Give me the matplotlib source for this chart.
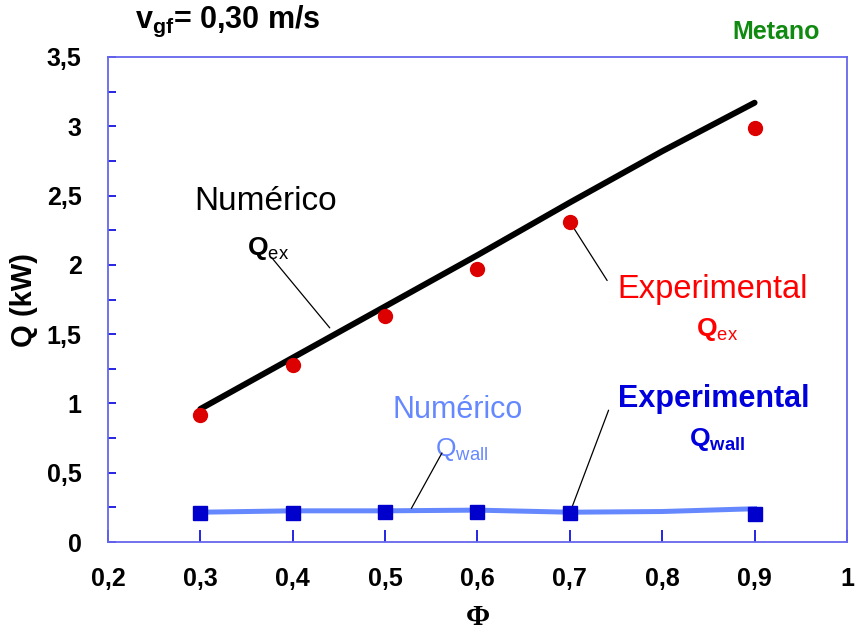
import matplotlib
matplotlib.use("Agg")
import matplotlib.pyplot as plt
from matplotlib.ticker import MultipleLocator, FixedLocator

plt.rcParams['font.family'] = ['Liberation Sans', 'DejaVu Sans']
plt.rcParams['mathtext.fontset'] = 'custom'
plt.rcParams['mathtext.rm'] = 'Liberation Sans'
plt.rcParams['mathtext.bf'] = 'Liberation Sans:bold'

# razão de equivalência
phi_exp = [0.3, 0.4, 0.5, 0.6, 0.7, 0.9]
phi_num = [0.3, 0.4, 0.5, 0.6, 0.7, 0.8, 0.9]

# calor extraído (kW)
qex_exp = [0.92, 1.28, 1.63, 1.97, 2.31, 2.99]
qex_num = [0.96, 1.33, 1.70, 2.07, 2.45, 2.82, 3.17]

# calor pela parede (kW)
qwall_exp = [0.21, 0.21, 0.215, 0.22, 0.21, 0.20]
qwall_num = [0.215, 0.225, 0.225, 0.23, 0.215, 0.22, 0.24]

xticks = [0.2, 0.3, 0.4, 0.5, 0.6, 0.7, 0.8, 0.9, 1.0]
xlabels = ['0,2', '0,3', '0,4', '0,5', '0,6', '0,7', '0,8', '0,9', '1']
yticks = [0, 0.5, 1, 1.5, 2, 2.5, 3, 3.5]
ylabels = ['0', '0,5', '1', '1,5', '2', '2,5', '3', '3,5']

fig = plt.figure(figsize=(8.55, 6.34), dpi=100)
ax = fig.add_axes([0.1263, 0.1451, 0.8643, 0.765])

ax.plot(phi_num, qex_num, color='black', lw=4.3, solid_capstyle='round', zorder=3)
ax.plot(phi_exp, qex_exp, 'o', color='#dd0000', ms=10, mec='#dd0000', zorder=4)
ax.plot(phi_num, qwall_num, color='#6688ff', lw=3.6, zorder=3)
ax.plot(phi_exp, qwall_exp, 's', color='#0000cc', ms=9.5, mec='#0000cc', zorder=4)

ax.set_xlim(0.2, 1.0)
ax.set_ylim(0, 3.5)
ax.xaxis.set_major_locator(FixedLocator(xticks))
ax.set_xticklabels(xlabels)
ax.yaxis.set_major_locator(FixedLocator(yticks))
ax.set_yticklabels(ylabels)
ax.yaxis.set_minor_locator(MultipleLocator(0.25))

ax.tick_params(axis='both', which='both', direction='in', color='#0000dd', width=1.2)
ax.tick_params(axis='x', which='major', length=9, pad=18)
ax.tick_params(axis='y', which='both', length=6, pad=19)
for lab in ax.get_xticklabels() + ax.get_yticklabels():
    lab.set_fontsize(18)
    lab.set_fontweight('bold')
for sp in ax.spines.values():
    sp.set_color('#6666ee')
    sp.set_linewidth(1.3)

ax.set_ylabel('Q (kW)', fontsize=21, fontweight='bold', labelpad=6)
ax.set_xlabel('Φ', fontsize=21, fontweight='bold', family=['Liberation Serif'], labelpad=9)

# títulos
fig.text(0.158, 0.966, r'v$_{\mathbf{gf}}$= 0,30 m/s', fontsize=22, fontweight='bold',
         ha='left', va='center')
fig.text(0.908, 0.949, 'Metano', fontsize=18, fontweight='bold', color='#108a10',
         ha='center', va='center')

# rótulos das curvas
ax.text(0.371, 2.46, 'Numérico', fontsize=24, color='black', ha='center', va='center')
ax.text(0.351, 2.12, r'$\mathbf{Q}_{\mathrm{ex}}$', fontsize=19, color='black',
        ha='left', va='center')
ax.annotate('', xy=(0.442, 1.53), xytext=(0.375, 2.07),
            arrowprops=dict(arrowstyle='-', color='black', lw=0.9))

ax.text(0.854, 1.82, 'Experimental', fontsize=23.5, color='#ff0000', ha='center', va='center')
ax.text(0.837, 1.53, r'$\mathbf{Q}_{\mathrm{ex}}$', fontsize=19, color='#ff0000',
        ha='left', va='center')
ax.annotate('', xy=(phi_exp[4], qex_exp[4]), xytext=(0.742, 1.87),
            arrowprops=dict(arrowstyle='-', color='black', lw=0.9))

ax.text(0.578, 0.95, 'Numérico', fontsize=22, color='#6688ff', ha='center', va='center')
ax.text(0.554, 0.67, r'$\mathrm{Q}_{\mathrm{wall}}$', fontsize=19, color='#6688ff',
        ha='left', va='center')
ax.annotate('', xy=(0.527, qwall_num[2]), xytext=(0.563, 0.66),
            arrowprops=dict(arrowstyle='-', color='black', lw=0.9))

ax.text(0.856, 1.03, 'Experimental', fontsize=22, fontweight='bold', color='#0000dd',
        ha='center', va='center')
ax.text(0.829, 0.74, r'$\mathbf{Q}_{\mathbf{wall}}$', fontsize=19, color='#0000dd',
        ha='left', va='center')
ax.annotate('', xy=(phi_exp[4], qwall_exp[4]), xytext=(0.743, 0.97),
            arrowprops=dict(arrowstyle='-', color='black', lw=0.9))

fig.savefig('out.png', dpi=100)
